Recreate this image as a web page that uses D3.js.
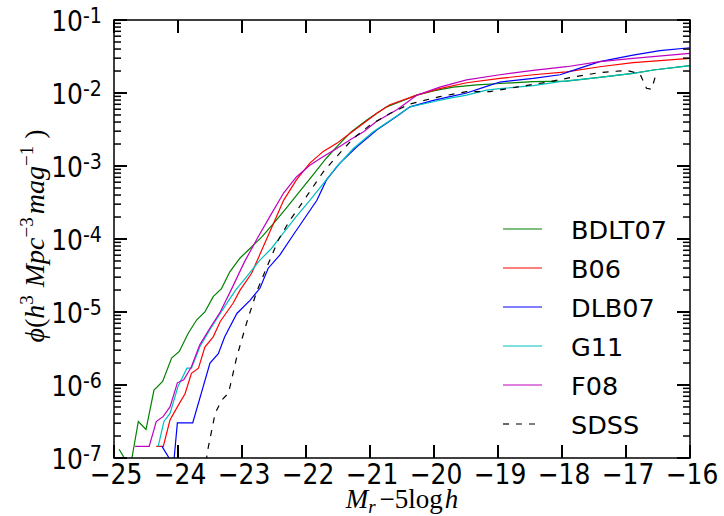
<!DOCTYPE html>
<html><head><meta charset="utf-8">
<script src="https://cdn.jsdelivr.net/npm/d3@7"></script>
<style>body{margin:0;background:#fff}svg{display:block}</style>
</head><body>
<svg id="c" width="724" height="516"></svg>
<script>
// ---- data (absolute magnitude M_r - 5 log h, log10 phi) ----
const seriesNames = ["BDLT07", "B06", "DLB07", "G11", "F08", "SDSS"];
const seriesColors = ["#008000", "#ff0000", "#0000ff", "#00bfbf", "#bf00bf", "#000000"];

const magBDLT07 = [-24.92,-24.84,-24.78,-24.72,-24.62,-24.50,-24.375,-24.24,-24.10,-23.98,-23.84,-23.71,-23.58,-23.45,-23.32,-23.19,-23.03,-22.90,-22.69,-22.51,-22.33,-22.12,-21.89,-21.68,-21.47,-21.29,-21.05,-20.74,-20.53,-20.27,-20.01,-19.70,-19.33,-18.97,-18.45,-17.93,-17.41,-16.89,-16.57,-16.0];
const logPhiBDLT07 = [-6.88,-7.00,-7.30,-7.00,-6.50,-6.61,-6.07,-5.95,-5.63,-5.54,-5.29,-5.11,-5.00,-4.79,-4.68,-4.45,-4.26,-4.15,-3.97,-3.79,-3.60,-3.37,-3.12,-2.89,-2.69,-2.53,-2.37,-2.19,-2.12,-2.03,-1.97,-1.92,-1.89,-1.87,-1.845,-1.836,-1.785,-1.73,-1.685,-1.626];

const magB06 = [-24.34,-24.23,-24.125,-24.01,-23.89,-23.79,-23.68,-23.58,-23.45,-23.34,-23.14,-23.03,-22.85,-22.67,-22.51,-22.35,-22.15,-21.94,-21.73,-21.52,-21.31,-21.10,-20.90,-20.69,-20.27,-19.91,-19.49,-18.97,-18.45,-17.93,-17.41,-16.89,-16.0];
const logPhiB06 = [-6.84,-6.84,-6.48,-6.30,-6.12,-5.84,-5.77,-5.48,-5.34,-5.13,-4.88,-4.70,-4.47,-4.11,-3.79,-3.47,-3.19,-2.96,-2.80,-2.69,-2.55,-2.415,-2.28,-2.16,-2.03,-1.94,-1.86,-1.80,-1.75,-1.71,-1.64,-1.585,-1.525];

const magDLB07 = [-24.25,-24.14,-24.10,-24.06,-24.01,-23.77,-23.5,-23.37,-23.27,-23.08,-22.875,-22.72,-22.59,-22.41,-22.20,-22.04,-21.83,-21.68,-21.47,-21.21,-20.90,-20.58,-20.375,-20.01,-19.75,-19.49,-19.18,-18.97,-18.45,-18.03,-17.72,-17.41,-16.89,-16.47,-16.0];
const logPhiDLB07 = [-6.84,-7.0,-7.3,-7.0,-6.52,-6.52,-5.70,-5.57,-5.34,-5.02,-4.84,-4.675,-4.40,-4.22,-3.945,-3.74,-3.47,-3.19,-2.96,-2.74,-2.51,-2.32,-2.19,-2.10,-2.05,-2.00,-1.91,-1.85,-1.80,-1.75,-1.66,-1.57,-1.48,-1.42,-1.38];

const magG11 = [-24.31,-24.22,-24.125,-24.0,-23.86,-23.79,-23.66,-23.5,-23.29,-23.10,-22.93,-22.72,-22.54,-22.355,-22.15,-21.94,-21.73,-21.52,-21.26,-20.95,-20.64,-20.375,-20.01,-19.75,-19.49,-19.18,-18.97,-18.45,-18.03,-17.41,-16.89,-16.57,-16.0];
const logPhiG11 = [-6.84,-6.50,-6.39,-6.02,-5.77,-5.77,-5.48,-5.24,-4.95,-4.70,-4.52,-4.29,-4.13,-3.92,-3.69,-3.47,-3.24,-3.01,-2.76,-2.53,-2.35,-2.19,-2.12,-2.07,-2.03,-1.96,-1.94,-1.90,-1.845,-1.785,-1.73,-1.685,-1.626];

const magF08 = [-24.67,-24.45,-24.34,-24.23,-24.125,-24.01,-23.91,-23.79,-23.66,-23.5,-23.34,-23.16,-22.96,-22.76,-22.55,-22.35,-22.15,-21.94,-21.73,-21.52,-21.31,-21.10,-20.90,-20.58,-20.27,-19.91,-19.49,-18.97,-18.45,-17.93,-17.41,-16.89,-16.0];
const logPhiF08 = [-6.84,-6.84,-6.50,-6.43,-6.30,-5.97,-5.93,-5.75,-5.45,-5.22,-5.00,-4.68,-4.31,-3.99,-3.67,-3.37,-3.15,-2.99,-2.87,-2.76,-2.64,-2.53,-2.39,-2.23,-2.03,-1.92,-1.82,-1.75,-1.69,-1.64,-1.57,-1.525,-1.456];

const magSDSS = [-23.56,-23.54,-23.42,-23.32,-23.21,-23.08,-22.93,-22.77,-22.61,-22.43,-22.25,-22.15,-21.94,-21.73,-21.52,-21.26,-21.0,-20.69,-20.375,-19.91,-19.49,-19.125,-18.71,-18.19,-17.82,-17.41,-16.99,-16.78,-16.68,-16.60,-16.52];
const logPhiSDSS = [-7.05,-6.91,-6.39,-6.21,-6.11,-5.61,-5.155,-4.72,-4.38,-4.01,-3.74,-3.62,-3.35,-3.08,-2.87,-2.62,-2.44,-2.28,-2.15,-2.05,-1.98,-1.98,-1.92,-1.845,-1.78,-1.72,-1.69,-1.74,-1.935,-1.95,-1.71];

const xTickValues = [-25,-24,-23,-22,-21,-20,-19,-18,-17,-16];
const yTickExponents = [-1,-2,-3,-4,-5,-6,-7];

// ---- drawing ----
const mags = [magBDLT07, magB06, magDLB07, magG11, magF08, magSDSS];
const logs = [logPhiBDLT07, logPhiB06, logPhiDLB07, logPhiG11, logPhiF08, logPhiSDSS];
const series = seriesNames.map((n, i) => ({
  name: n, color: seriesColors[i], dashed: n === "SDSS",
  pts: mags[i].map((m, j) => ({ m, phi: Math.pow(10, logs[i][j]) }))
}));

const L = 114, R = 690, T = 20, B = 458;
const x = d3.scaleLinear().domain([-25, -16]).range([L, R]);
const y = d3.scaleLog().domain([1e-7, 1e-1]).range([B, T]);
const svg = d3.select("#c");

svg.append("defs").append("clipPath").attr("id", "clip")
  .append("rect").attr("x", L).attr("y", T).attr("width", R - L).attr("height", B - T);

const line = d3.line().x(d => x(d.m)).y(d => y(d.phi));
const g = svg.append("g").attr("clip-path", "url(#clip)");
series.forEach(s => {
  g.append("path").attr("d", line(s.pts)).attr("fill", "none")
    .attr("stroke", s.color).attr("stroke-width", 1.2)
    .attr("stroke-dasharray", s.dashed ? "6,7" : null);
});

// frame
svg.append("rect").attr("x", L).attr("y", T).attr("width", R - L).attr("height", B - T)
  .attr("fill", "none").attr("stroke", "#000").attr("stroke-width", 1.5);

// ticks (inward, all four sides)
const tk = svg.append("g").attr("stroke", "#000");
xTickValues.forEach(v => {
  tk.append("line").attr("x1", x(v)).attr("x2", x(v)).attr("y1", B).attr("y2", B - 13).attr("stroke-width", 2);
  tk.append("line").attr("x1", x(v)).attr("x2", x(v)).attr("y1", T).attr("y2", T + 13).attr("stroke-width", 2);
});
yTickExponents.forEach(e => {
  const v = Math.pow(10, e);
  tk.append("line").attr("x1", L).attr("x2", L + 13).attr("y1", y(v)).attr("y2", y(v)).attr("stroke-width", 2);
  tk.append("line").attr("x1", R).attr("x2", R - 13).attr("y1", y(v)).attr("y2", y(v)).attr("stroke-width", 2);
  if (e > -7) {
    for (let d = 2; d <= 9; d++) {
      const mv = d * Math.pow(10, e - 1);
      tk.append("line").attr("x1", L).attr("x2", L + 7).attr("y1", y(mv)).attr("y2", y(mv)).attr("stroke-width", 1.5);
      tk.append("line").attr("x1", R).attr("x2", R - 7).attr("y1", y(mv)).attr("y2", y(mv)).attr("stroke-width", 1.5);
    }
  }
});

// tick labels
const font = "DejaVu Sans, Liberation Sans, sans-serif";
xTickValues.forEach(v => {
  svg.append("text").attr("transform", `translate(${x(v) + 2},484) scale(1,1.12)`)
    .attr("text-anchor", "middle").attr("font-family", font).attr("font-size", 25)
    .text("\u2212" + Math.abs(v));
});
yTickExponents.forEach(e => {
  const gy = svg.append("g").attr("transform", `translate(83,${y(Math.pow(10, e)) + 11}) scale(1,1.12)`);
  gy.append("text").attr("text-anchor", "end").attr("font-family", font).attr("font-size", 25).text("10");
  gy.append("text").attr("x", 0).attr("y", -7.5).attr("font-family", font).attr("font-size", 19).text("-" + Math.abs(e));
});

// axis labels
const serif = "Liberation Serif, DejaVu Serif, serif";
const xl = svg.append("text").attr("x", (L + R) / 2).attr("y", 508).attr("text-anchor", "middle")
  .attr("font-family", serif).attr("font-size", 27);
xl.append("tspan").attr("font-style", "italic").text("M");
xl.append("tspan").attr("font-style", "italic").attr("font-size", 19).attr("dy", 5).text("r");
xl.append("tspan").attr("dy", -5).attr("dx", 4).text("\u22125log");
xl.append("tspan").attr("font-style", "italic").attr("dx", 2).text("h");

const yl = svg.append("text").attr("transform", "translate(44,236) rotate(-90)").attr("text-anchor", "middle")
  .attr("font-family", serif).attr("font-size", 28);
yl.append("tspan").attr("font-style", "italic").text("\u03D5");
yl.append("tspan").text("(");
yl.append("tspan").attr("font-style", "italic").text("h");
yl.append("tspan").attr("font-size", 19).attr("dy", -11).text("3");
yl.append("tspan").attr("font-style", "italic").attr("dy", 11).attr("dx", 8).text("Mpc");
yl.append("tspan").attr("font-size", 19).attr("dy", -11).text("\u22123");
yl.append("tspan").attr("font-style", "italic").attr("dy", 11).attr("dx", 3).text("mag");
yl.append("tspan").attr("font-size", 19).attr("dy", -11).text("\u22121");
yl.append("tspan").attr("dy", 11).attr("dx", 7).text(")");

// legend
series.forEach((s, i) => {
  const ly = 229 + i * 39;
  svg.append("line").attr("x1", 503).attr("x2", 542).attr("y1", ly).attr("y2", ly)
    .attr("stroke", s.color).attr("stroke-width", 1.2).attr("stroke-dasharray", s.dashed ? "6,7" : null);
  svg.append("text").attr("x", 571).attr("y", ly + 10).attr("font-family", font)
    .attr("font-size", 25.5).text(s.name);
});
</script>
</body></html>
